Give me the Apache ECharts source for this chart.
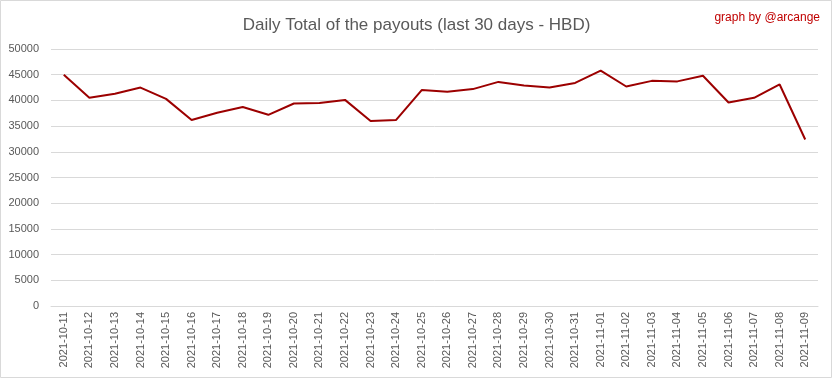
<!DOCTYPE html>
<html><head><meta charset="utf-8">
<script src="https://cdn.jsdelivr.net/npm/echarts@6/dist/echarts.min.js"></script>
<style>html,body{margin:0;padding:0;background:#fff}#c{width:833px;height:379px}</style>
</head><body><div id="c"></div>
<script>
var categories = ["2021-10-11","2021-10-12","2021-10-13","2021-10-14","2021-10-15","2021-10-16","2021-10-17","2021-10-18","2021-10-19","2021-10-20","2021-10-21","2021-10-22","2021-10-23","2021-10-24","2021-10-25","2021-10-26","2021-10-27","2021-10-28","2021-10-29","2021-10-30","2021-10-31","2021-11-01","2021-11-02","2021-11-03","2021-11-04","2021-11-05","2021-11-06","2021-11-07","2021-11-08","2021-11-09"];
var payouts = [45000,40500,41300,42500,40300,36200,37600,38700,37200,39400,39500,40100,36000,36200,42000,41700,42200,43600,42900,42500,43400,45800,42700,43800,43700,44800,39600,40500,43100,32400];
var chart = echarts.init(document.getElementById('c'));
chart.setOption({
  animation:false,
  backgroundColor:'#fff',
  graphic:[{type:'rect',shape:{x:0.5,y:0.5,width:831,height:377},style:{fill:'none',stroke:'#d9d9d9',lineWidth:1}}],
  title:[{text:'Daily Total of the payouts (last 30 days - HBD)',left:'center',top:12,textStyle:{fontFamily:'Liberation Sans',fontSize:17,fontWeight:'normal',color:'#595959'}},
         {text:'graph by @arcange',right:8,top:7,textStyle:{fontFamily:'Liberation Sans',fontSize:12,fontWeight:'normal',color:'#c00000'}}],
  grid:{left:51,right:15,top:49,bottom:73,containLabel:false},
  xAxis:{type:'category',data:categories,boundaryGap:true,
    axisLine:{lineStyle:{color:'#d9d9d9'}},axisTick:{show:false},
    axisLabel:{rotate:90,interval:0,fontFamily:'Liberation Sans',fontSize:11,color:'#595959',margin:6}},
  yAxis:{type:'value',min:0,max:50000,interval:5000,
    axisLine:{show:false},axisTick:{show:false},
    splitLine:{lineStyle:{color:'#d9d9d9'}},
    axisLabel:{fontFamily:'Liberation Sans',fontSize:11,color:'#595959',margin:12,formatter:function(v){return String(v);}}},
  series:[{type:'line',data:payouts,symbol:'none',lineStyle:{color:'#9c0000',width:2}}]
});
</script></body></html>
